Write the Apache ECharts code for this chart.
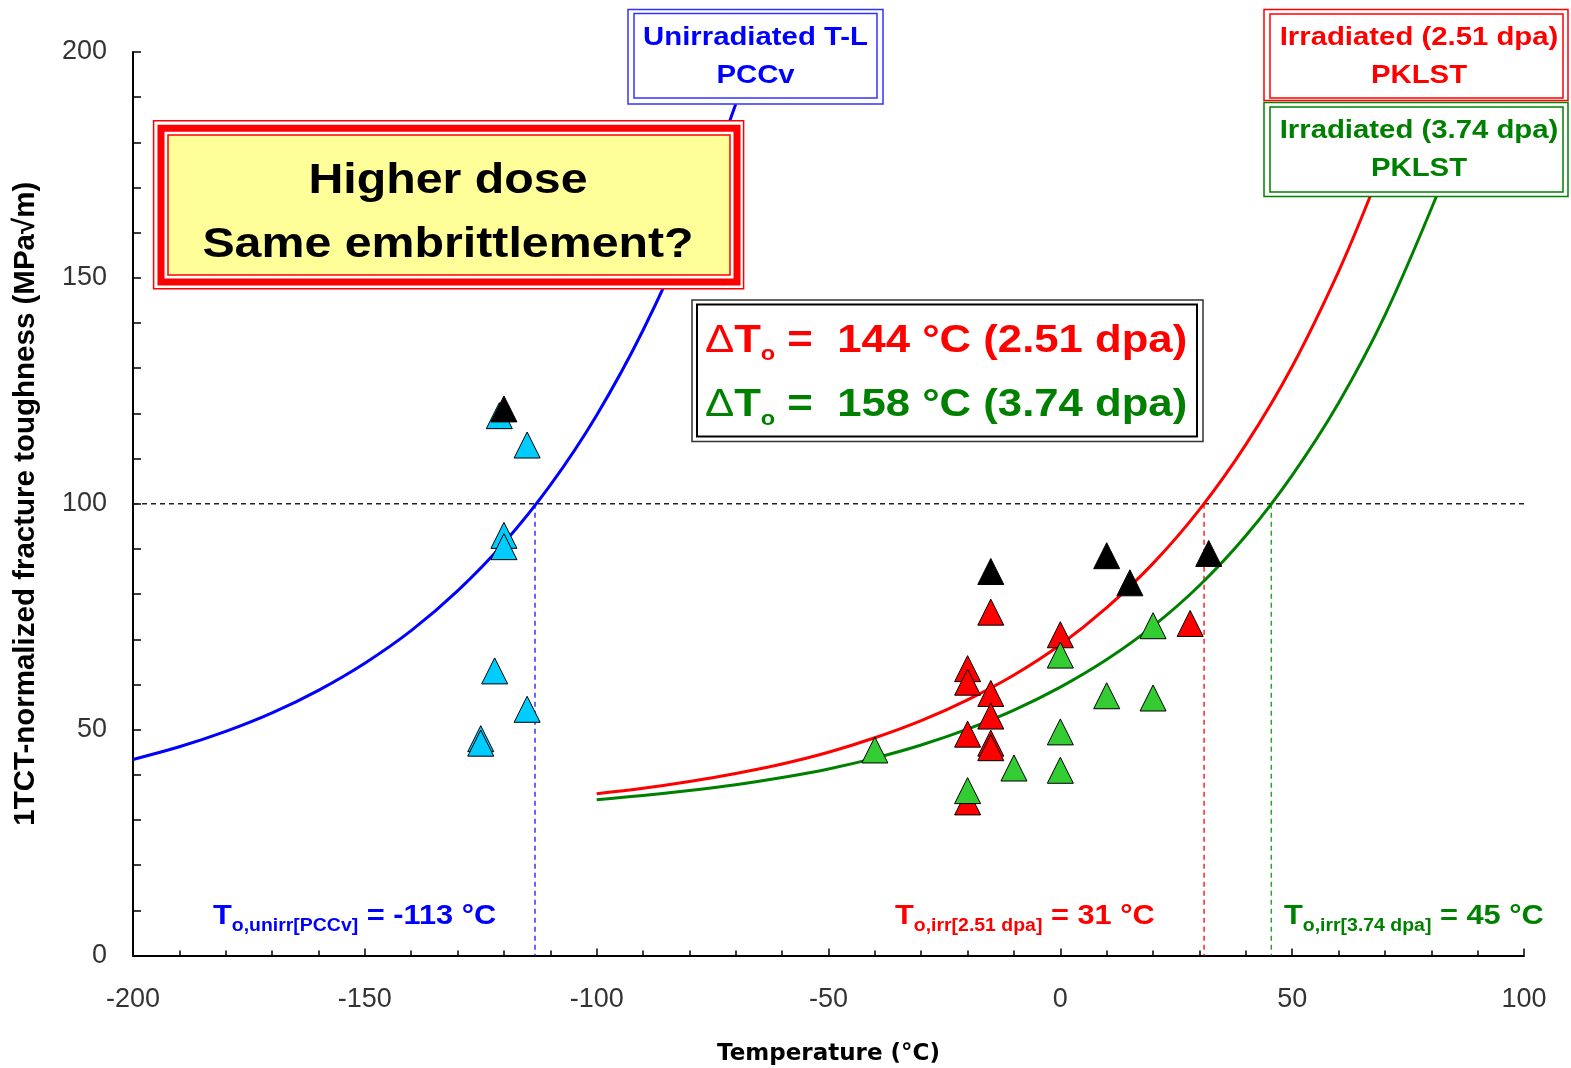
<!DOCTYPE html>
<html><head><meta charset="utf-8">
<script src="https://cdn.jsdelivr.net/npm/echarts@6/dist/echarts.min.js"></script>
<style>html,body{margin:0;padding:0;background:#fff}#c{width:1571px;height:1068px}</style>
</head><body><div id="c"></div>
<script>
// ---- data ----
const unirrT = [-121, -115, -120, -120, -122, -115, -125, -125];
const unirrK = [119.5, 113, 93, 90.5, 63, 54.5, 48, 47];

const irr251T = [-15, 0, 28, -20, -20, -15, -15, -20, -15, -15, -20];
const irr251K = [76, 71, 73.5, 63.5, 60.5, 58, 53, 49, 47, 46, 34];

const irr374T = [-40, 0, 20, 10, 20, 0, -10, 0, -20];
const irr374K = [45.5, 66.5, 73, 57.5, 57, 49.5, 41.5, 41, 36.5];

const blackT = [-120, -15, 10, 15, 32];
const blackK = [121, 85, 88.5, 82.5, 89];

// master curves
const mcUnirrT = [-200, -190, -180, -170, -160, -150, -140, -130, -120, -110, -100, -90, -80, -70];
const mcUnirrK = [43.4, 46.2, 49.6, 53.7, 58.7, 64.7, 71.9, 80.7, 91.3, 104.1, 119.6, 138.4, 161.0, 188.5];

const mc251T = [-100, -90, -80, -70, -60, -50, -40, -30, -20, -10, 0, 10, 20, 30, 40, 50, 60, 67];
const mc251K = [35.8, 37.0, 38.5, 40.3, 42.4, 45.0, 48.2, 52.0, 56.6, 62.1, 68.8, 77.0, 86.8, 98.7, 113.1, 130.4, 151.4, 168.5];

const mc374T = [-100, -90, -80, -70, -60, -50, -40, -30, -20, -10, 0, 10, 20, 30, 40, 50, 60, 70, 81.3];
const mc374K = [34.5, 35.4, 36.5, 37.8, 39.4, 41.3, 43.7, 46.6, 50.1, 54.3, 59.4, 65.5, 72.9, 81.9, 92.9, 106.3, 122.3, 141.7, 168.5];

const refK = 100;               // reference toughness level
const refLineEndT = 102.5;      // dashed line runs slightly past the axis
const t0Unirr = -113.3, t0Irr251 = 31, t0Irr374 = 45.5;

const xTicks = [-200, -150, -100, -50, 0, 50, 100];
const yTicks = [0, 50, 100, 150, 200];

// ---- helpers ----
const zip = (a, b) => a.map((v, i) => [v, b[i]]);
const FONT = "'Liberation Sans', Arial, sans-serif";

function rect(x, y, w, h, stroke, lw, fill, z) {
  return { type: 'rect', z: z || 100, shape: { x, y, width: w, height: h },
    style: { fill: fill || 'none', stroke, lineWidth: lw } };
}
function txt(x, y, text, color, size, opts) {
  opts = opts || {};
  return { type: 'text', z: 110, x, y, scaleX: opts.sx || 1.15,
    style: { text, fill: color, fontFamily: opts.family || FONT, fontWeight: opts.weight || 'bold',
      fontSize: size, align: opts.align || 'center', verticalAlign: 'middle', rich: opts.rich } };
}
function subLabel(x, y, color, main, sub, rest, size, subSize) {
  return txt(x, y, '{m|' + main + '}{s|' + sub + '}{m|' + rest + '}', color, size, {
    align: 'left', sx: 1.08,
    rich: {
      m: { fontFamily: FONT, fontWeight: 'bold', fontSize: size, fill: color, lineHeight: size + 10 },
      s: { fontFamily: FONT, fontWeight: 'bold', fontSize: subSize, fill: color, lineHeight: subSize, verticalAlign: 'bottom' }
    } });
}
function deltaLabel(x, y, color, rest) {
  return txt(x, y, '{d|Δ}{m|T}{s|o}{m|' + rest + '}', color, 39, {
    align: 'left', sx: 1.12,
    rich: {
      d: { fontFamily: FONT, fontWeight: 'normal', fontSize: 39, fill: color, lineHeight: 48 },
      m: { fontFamily: FONT, fontWeight: 'bold', fontSize: 39, fill: color, lineHeight: 48 },
      s: { fontFamily: FONT, fontWeight: 'bold', fontSize: 21, fill: color, lineHeight: 21, verticalAlign: 'bottom' }
    } });
}

const chart = echarts.init(document.getElementById('c'), null, { renderer: 'canvas' });

const scatterBase = { type: 'scatter', symbol: 'triangle', symbolSize: 26, z: 5,
  itemStyle: { borderColor: '#000', borderWidth: 1, opacity: 1 } };
const dashed = (data, color, w) => ({ type: 'line', data, symbol: 'none', z: 3, clip: false,
  lineStyle: { color, width: w || 1.5, type: [5, 4] }, silent: true });
const curve = (data, color) => ({ type: 'line', data, showSymbol: false, symbol: 'none', smooth: 0.35, z: 4,
  lineStyle: { color, width: 3 } });

const graphic = [
  // Unirradiated label box
  rect(628, 9.5, 255, 94.5, '#3333ff', 1.5, '#fff'),
  rect(634, 13.5, 243, 84.5, '#3333ff', 1.5),
  txt(755.5, 38, 'Unirradiated T-L', '#0000ff', 25.5),
  txt(755.5, 76, 'PCCv', '#0000ff', 25.5),
  // Irradiated 2.51 dpa
  rect(1264, 9.5, 304, 91, '#ff0000', 1.5, '#fff'),
  rect(1270, 14, 293, 84, '#ff0000', 1.5),
  txt(1419, 38, 'Irradiated (2.51 dpa)', '#ff0000', 25.5),
  txt(1419, 76, 'PKLST', '#ff0000', 25.5),
  // Irradiated 3.74 dpa
  rect(1264, 102.5, 304, 94, '#008000', 1.5, '#fff'),
  rect(1270, 107, 293, 85, '#008000', 1.5),
  txt(1419, 131, 'Irradiated (3.74 dpa)', '#008000', 25.5),
  txt(1419, 169, 'PKLST', '#008000', 25.5),
  // Higher dose box
  rect(153.6, 120.7, 590, 168, '#ff0000', 1.5, '#fff'),
  rect(161, 128.3, 576, 153.7, '#ff0000', 7, '#fff'),
  rect(168, 135, 562, 140, '#ff0000', 1.5, '#ffff99'),
  txt(448, 181, 'Higher dose', '#000', 42),
  txt(448, 245, 'Same embrittlement?', '#000', 42),
  // Delta T0 box
  rect(692, 300, 511, 141.5, '#333', 1.5, '#fff'),
  rect(697, 304.5, 500, 132, '#000', 2),
  deltaLabel(705, 341, '#ff0000', ' =  144 °C (2.51 dpa)'),
  deltaLabel(705, 405.5, '#008000', ' =  158 °C (3.74 dpa)'),
  // T0 labels near the axis
  subLabel(213, 916, '#0000ff', 'T', 'o,unirr[PCCv]', ' = -113 °C', 28.5, 18),
  subLabel(895, 916, '#ff0000', 'T', 'o,irr[2.51 dpa]', ' = 31 °C', 28.5, 18),
  subLabel(1284, 916, '#008000', 'T', 'o,irr[3.74 dpa]', ' = 45 °C', 28.5, 18)
];

chart.setOption({
  animation: false,
  backgroundColor: '#fff',
  grid: { left: 133, right: 47, top: 52, bottom: 112.5, containLabel: false, outerBoundsMode: 'none' },
  xAxis: {
    type: 'value', min: xTicks[0], max: xTicks[xTicks.length - 1], interval: 50,
    name: 'Temperature (°C)', nameLocation: 'middle', nameGap: 87,
    nameTextStyle: { fontFamily: "'DejaVu Sans', sans-serif", fontWeight: 'bold', fontSize: 23, color: '#000' },
    axisLine: { onZero: false, lineStyle: { color: '#000', width: 2 } },
    axisTick: { inside: true, length: 7, lineStyle: { color: '#000', width: 1.5 } },
    minorTick: { show: true, splitNumber: 5, length: 5, lineStyle: { color: '#000', width: 1.5 } },
    splitLine: { show: false }, minorSplitLine: { show: false },
    axisLabel: { fontFamily: FONT, fontSize: 27, color: '#333', margin: 31 }
  },
  yAxis: {
    type: 'value', min: yTicks[0], max: yTicks[yTicks.length - 1], interval: 50,
    name: '1TCT-normalized fracture toughness (MPa√m)', nameLocation: 'middle', nameGap: 92,
    nameTextStyle: { fontFamily: FONT, fontWeight: 'bold', fontSize: 29.5, color: '#000' },
    axisLine: { onZero: false, lineStyle: { color: '#000', width: 2 } },
    axisTick: { inside: true, length: 8, lineStyle: { color: '#000', width: 1.5 } },
    minorTick: { show: true, splitNumber: 5, length: 8, lineStyle: { color: '#000', width: 1.5 } },
    splitLine: { show: false }, minorSplitLine: { show: false },
    axisLabel: { fontFamily: FONT, fontSize: 27, color: '#333', margin: 26 }
  },
  series: [
    dashed([[xTicks[0], refK], [refLineEndT, refK]], '#222', 1.5),
    dashed([[t0Unirr, refK], [t0Unirr, 0]], '#3333ff'),
    dashed([[t0Irr251, refK], [t0Irr251, 0]], '#ff2020'),
    dashed([[t0Irr374, refK], [t0Irr374, 0]], '#30a030'),
    curve(zip(mcUnirrT, mcUnirrK), '#0000ff'),
    curve(zip(mc251T, mc251K), '#ff0000'),
    curve(zip(mc374T, mc374K), '#008000'),
    Object.assign({}, scatterBase, { name: 'Unirradiated', data: zip(unirrT, unirrK), itemStyle: Object.assign({}, scatterBase.itemStyle, { color: '#00ccff' }) }),
    Object.assign({}, scatterBase, { name: 'Irradiated 2.51 dpa', data: zip(irr251T, irr251K), itemStyle: Object.assign({}, scatterBase.itemStyle, { color: '#ff0000' }) }),
    Object.assign({}, scatterBase, { name: 'Irradiated 3.74 dpa', data: zip(irr374T, irr374K), itemStyle: Object.assign({}, scatterBase.itemStyle, { color: '#33cc33' }) }),
    Object.assign({}, scatterBase, { name: 'Other', data: zip(blackT, blackK), itemStyle: Object.assign({}, scatterBase.itemStyle, { color: '#000000' }) })
  ],
  graphic: graphic
});
</script></body></html>
